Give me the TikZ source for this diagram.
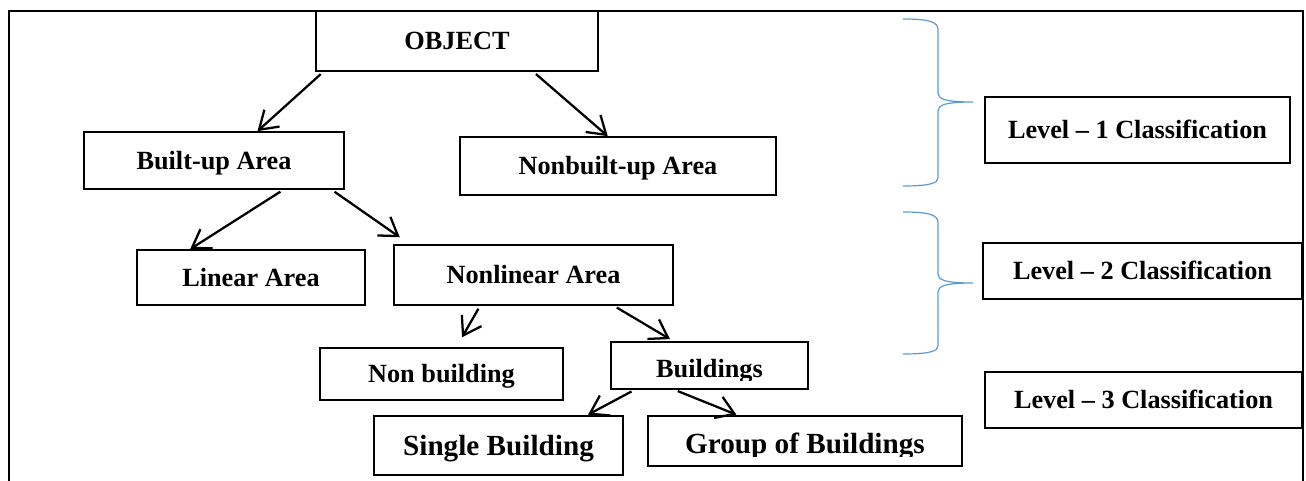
\documentclass[tikz,border=0pt]{standalone}
\usepackage{fontspec}
\setmainfont{Liberation Serif}
\usetikzlibrary{arrows.meta}
\definecolor{braceblue}{RGB}{91,155,213}
\tikzset{
  box/.style={draw, line width=1.3pt, inner sep=0pt, text height=13pt, text depth=0pt,
    font=\fontsize{19.7}{22}\selectfont\bfseries},
  bigbox/.style={box, line width=2pt, text height=14.5pt,
    font=\fontsize{21.9}{24}\selectfont\bfseries},
  wh/.style 2 args={minimum width=#1*0.75pt, minimum height=#2*0.75pt},
  cliptext/.style={inner sep=0pt, anchor=base, font=\fontsize{19.7}{22}\selectfont\bfseries},
  arr/.style={line width=1.7pt, shorten <=2.5pt, -{Straight Barb[length=13pt,width=17pt]}},
  brace/.style={draw=braceblue, line width=0.9pt}
}

\begin{document}
\begin{tikzpicture}[x=0.75pt,y=-0.75pt]
\useasboundingbox (0,0) rectangle (1306,481);
% 外框
\draw[line width=1.5pt] (9,481) -- (9,11) -- (1303,11) -- (1303,481);
\node[box, wh={282}{60}] (obj) at (457,41) {OBJECT};
\node[box, wh={260}{57}] (bua) at (214,160.5) {Built-up Area};
\node[box, wh={316}{58}] (nbua) at (618,166) {Nonbuilt-up Area};
\node[box, wh={228}{55}] (lin) at (251,277.5) {Linear Area};
\node[box, wh={279}{60}] (nlin) at (533.5,275) {Nonlinear Area};
\node[box, wh={243}{52}] (nonb) at (441.5,374) {Non building};
\node[box, wh={197}{47}] (bld) at (709.5,365.5) {};
\node[bigbox, wh={249}{59}] (sgl) at (498.5,445.5) {Single Building};
\node[bigbox, wh={314}{50}] (grp) at (805,441) {};
\begin{scope}
  \clip (611,342) rectangle (808,380);
  \node[cliptext] (bldtxt) at (709.5,377) {Buildings};
\end{scope}
\begin{scope}
  \clip (648,416) rectangle (962,456);
  \node[cliptext, font=\fontsize{21.9}{24}\selectfont\bfseries] (grptxt) at (805,453) {Group of Buildings};
\end{scope}
\node[box, wh={305}{66}] (lv1) at (1137.5,130) {Level – 1 Classification};
\node[box, wh={319}{56}] (lv2) at (1142.5,271) {Level – 2 Classification};
\node[box, wh={317}{56}] (lv3) at (1143.5,400) {Level – 3 Classification};
\draw[arr] (obj.193) -- (bua.34);
\draw[arr] (obj.338) -- (nbua.109);
\draw[arr] (bua.337) -- (lin.155);
\draw[arr, shorten >=9pt] (bua.346) -- (nlin.166);
\draw[arr, shorten >=8.5pt] (nlin.210) -- (nonb.61);
\draw[arr, shorten >=3pt] (nlin.339) -- (bld.146);
\draw[arr] (bld.198) -- (sgl.19);
\draw[arr] (bld.215) -- (grp.159);
% 大括号
\draw[brace] (903,19) .. controls (930,19) and (938,22) .. (938,30) -- (938,93)
  .. controls (938,99) and (945,102) .. (973,102)
  .. controls (945,102) and (938,105) .. (938,111) -- (938,178)
  .. controls (938,183) and (930,186) .. (903,186);
\draw[brace] (903,212) .. controls (930,212) and (938,215) .. (938,223) -- (938,274)
  .. controls (938,280) and (945,283) .. (973,283)
  .. controls (945,283) and (938,286) .. (938,292) -- (938,346)
  .. controls (938,351) and (930,354) .. (903,354);
\end{tikzpicture}
\end{document}
